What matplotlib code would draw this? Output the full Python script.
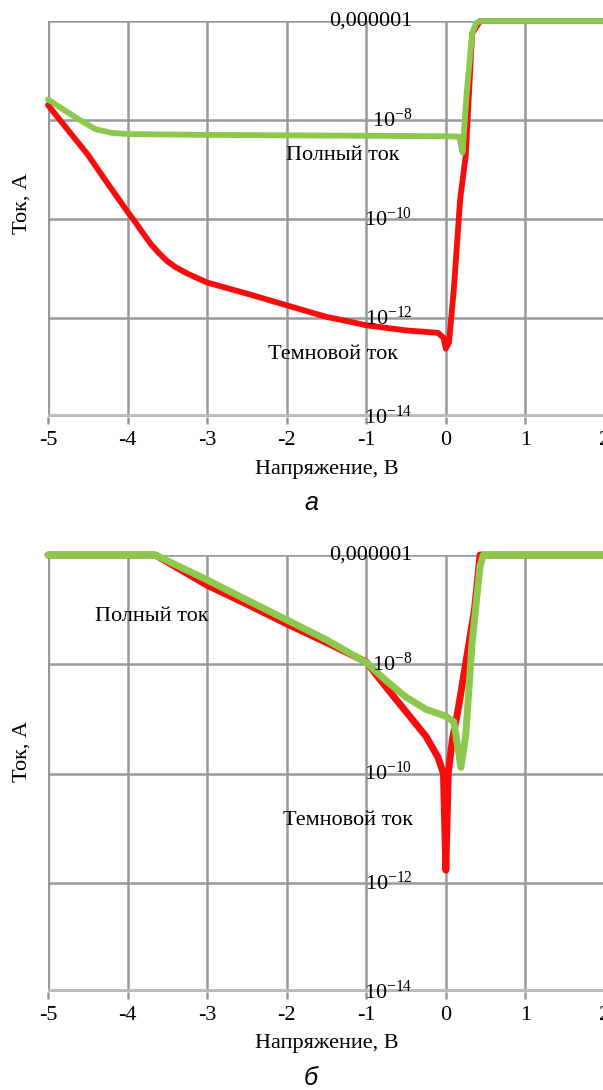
import matplotlib
matplotlib.use("Agg")
import matplotlib.pyplot as plt
from matplotlib.ticker import NullLocator

plt.rcParams['font.family'] = ['Liberation Serif', 'DejaVu Serif']
plt.rcParams['mathtext.fontset'] = 'custom'
plt.rcParams['mathtext.rm'] = 'Liberation Serif'

# panel a: total (green) and dark (red) current, A
a_total_v = [-5.0, -4.8, -4.6, -4.4, -4.2, -4.0, -3.0, -2.0, -1.0, 0.0, 0.17, 0.21, 0.26, 0.33, 0.38, 0.43, 2.0]
a_total_i = [2.6e-8, 1.6e-8, 1.0e-8, 6.5e-9, 5.5e-9, 5.2e-9, 5.0e-9, 4.9e-9, 4.8e-9, 4.7e-9,
             4.6e-9, 2.2e-9, 3.2e-8, 5.6e-7, 9.0e-7, 1.0e-6, 1.0e-6]

a_dark_v = [-5.0, -4.75, -4.5, -4.25, -4.0, -3.9, -3.8, -3.7, -3.6, -3.5, -3.4, -3.25, -3.0, -2.5,
            -2.0, -1.5, -1.25, -1.0, -0.5, -0.1, -0.03, 0.0, 0.04, 0.1, 0.18, 0.25, 0.33, 0.43, 2.0]
a_dark_i = [2.0e-8, 6.3e-9, 2.0e-9, 5.2e-10, 1.4e-10, 8.5e-11, 5.0e-11, 3.0e-11, 2.0e-11, 1.4e-11,
            1.07e-11, 7.9e-12, 5.2e-12, 3.1e-12, 1.8e-12, 1.05e-12, 8.7e-13, 7.1e-13, 5.6e-13,
            5.0e-13, 4.0e-13, 2.4e-13, 3.2e-13, 3.8e-12, 2.5e-10, 1.9e-9, 5.6e-7, 1.0e-6, 1.0e-6]

# panel b
b_total_v = [-5.0, -3.65, -3.0, -2.5, -2.0, -1.5, -1.0, -0.75, -0.5, -0.25, 0.0, 0.1, 0.19, 0.25,
             0.33, 0.43, 0.47, 2.0]
b_total_i = [1.0e-6, 1.0e-6, 3.5e-7, 1.5e-7, 6.5e-8, 2.8e-8, 1.07e-8, 5.0e-9, 2.5e-9, 1.5e-9,
             1.12e-9, 8.9e-10, 1.3e-10, 5.0e-10, 2.5e-8, 6.3e-7, 1.0e-6, 1.0e-6]

b_dark_v = [-5.0, -3.65, -3.0, -2.5, -2.0, -1.5, -1.0, -0.75, -0.5, -0.25, -0.1, -0.03, 0.0,
            0.03, 0.08, 0.16, 0.36, 0.43, 2.0]
b_dark_i = [1.0e-6, 1.0e-6, 2.8e-7, 1.26e-7, 5.5e-8, 2.5e-8, 1.1e-8, 3.8e-9, 1.35e-9, 4.8e-10,
            2.0e-10, 1.0e-10, 1.7e-12, 1.0e-10, 4.0e-10, 1.66e-9, 1.0e-7, 1.0e-6, 1.0e-6]

x_ticks = [-5, -4, -3, -2, -1, 0, 1, 2]
x_tick_labels = ['-5', '-4', '-3', '-2', '-1', '0', '1', '2']
y_marks = [1e-6, 1e-8, 1e-10, 1e-12, 1e-14]
y_mark_labels = ['0,000001', r'$\mathregular{10^{-8}}$', r'$\mathregular{10^{-10}}$',
                 r'$\mathregular{10^{-12}}$', r'$\mathregular{10^{-14}}$']

GREEN = '#8cc84b'
RED = '#f80d0d'
GRID = '#98989f'
FS = 16


def draw_panel(ax, tv, ti, dv, di, lw, total_pos, dark_pos):
    ax.set_yscale('log')
    ax.set_xlim(-5, 2)
    ax.set_ylim(1e-14, 1e-6)
    for s in ax.spines.values():
        s.set_visible(False)
    for v in x_ticks:
        ax.axvline(v, color=GRID, lw=1.8 if v > -5 else 2.4, zorder=1)
    for y in y_marks[:-1]:
        ax.axhline(y, color=GRID, lw=1.8, zorder=1)
    ax.axhline(1e-14, color='#bdbdbd', lw=5, zorder=1)
    ax.axhline(1e-14, color='#a8a8a8', lw=1.0, zorder=1)

    ax.plot(dv, di, color=RED, lw=lw, solid_capstyle='round', solid_joinstyle='round',
            clip_on=False, zorder=3)
    ax.plot(tv, ti, color=GREEN, lw=lw, solid_capstyle='round', solid_joinstyle='round',
            clip_on=False, zorder=4)

    for y, lab in zip(y_marks, y_mark_labels):
        ax.text(-0.42, y, lab, ha='right', va='center', fontsize=FS, zorder=5)
    ax.text(total_pos[0], total_pos[1], 'Полный ток', ha='center', va='center', fontsize=FS, zorder=5)
    ax.text(dark_pos[0], dark_pos[1], 'Темновой ток', ha='center', va='center', fontsize=FS, zorder=5)

    ax.set_xticks(x_ticks)
    ax.set_xticklabels(x_tick_labels)
    ax.tick_params(axis='x', direction='out', length=5, width=1.8, color=GRID,
                   labelsize=FS, pad=5)
    ax.yaxis.set_minor_locator(NullLocator())
    ax.set_yticks([])
    ax.tick_params(axis='y', which='both', left=False, labelleft=False)
    ax.set_xlabel('Напряжение, В', fontsize=FS)
    ax.set_ylabel('Ток, А', fontsize=FS)


fig = plt.figure(figsize=(6.03, 10.9), dpi=100)

ax1 = fig.add_axes([0.0796, 0.6175, 0.9237, 0.3632])
draw_panel(ax1, a_total_v, a_total_i, a_dark_v, a_dark_i, 4.2, (-1.29, 1.9e-9), (-1.42, 1.85e-13))
ax1.xaxis.set_label_coords(0.5, -0.108)
ax1.yaxis.set_label_coords(-0.03, 0.54)

ax2 = fig.add_axes([0.0796, 0.0899, 0.9237, 0.4009])
draw_panel(ax2, b_total_v, b_total_i, b_dark_v, b_dark_i, 5.0, (-3.69, 7.6e-8), (-1.23, 1.4e-11))
ax2.xaxis.set_label_coords(0.5, -0.095)
ax2.yaxis.set_label_coords(-0.03, 0.55)

fig.text(311 / 603, 1 - 503 / 1090, 'а', ha='center', va='center', fontsize=18,
         style='italic', family=['Liberation Sans', 'DejaVu Sans'])
fig.text(311 / 603, 1 - 1078 / 1090, 'б', ha='center', va='center', fontsize=18,
         style='italic', family=['Liberation Sans', 'DejaVu Sans'])

fig.savefig('out.png', dpi=100)
